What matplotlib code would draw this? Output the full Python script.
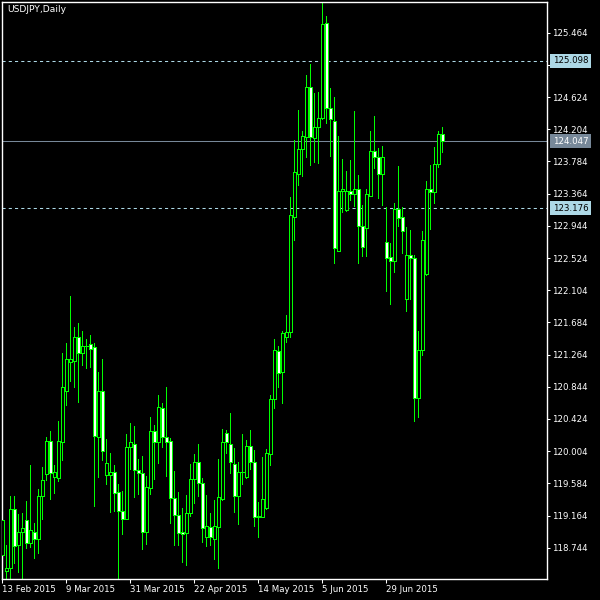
import numpy as np
import pandas as pd
import matplotlib
matplotlib.use("Agg")
import matplotlib.pyplot as plt
import matplotlib.transforms as mtransforms

# USDJPY daily candles, 13 Feb 2015 onwards
opens = [118.649, 118.441, 118.476, 119.246, 118.780, 118.946, 119.106, 118.810, 118.953, 118.854,
         119.419, 119.702, 120.137, 119.671, 119.658, 120.128, 120.793, 121.172, 121.185, 121.494,
         121.289, 121.373, 121.399, 121.363, 120.193, 120.785, 119.689, 119.697, 119.728, 119.467,
         119.223, 119.119, 120.055, 120.094, 119.758, 119.715, 118.946, 119.520, 120.263, 120.128,
         120.564, 120.185, 120.133, 119.389, 119.167, 118.950, 118.932, 119.194, 119.637, 119.859,
         119.585, 118.880, 119.019, 118.854, 119.019, 119.380, 120.237, 120.094, 119.833, 119.423,
         119.728, 119.671, 120.068, 119.859, 119.141, 119.141, 119.267, 119.963, 120.681, 121.311,
         121.033, 121.490, 121.555, 123.056, 123.617, 123.943, 124.100, 124.760, 124.087, 124.238,
         124.347, 125.587, 124.478, 124.316, 122.620, 123.403, 123.151, 123.399, 123.356, 123.421,
         122.946, 122.920, 123.338, 123.925, 123.836, 123.621, 122.737, 122.534, 122.479, 123.160,
         123.056, 121.986, 122.560, 122.521, 120.694, 121.320, 122.312, 123.421, 123.382, 123.747,
         124.139]
highs = [119.171, 118.780, 119.419, 119.419, 119.184, 119.194, 119.354, 119.824, 119.063, 119.511,
         119.794, 120.185, 120.267, 119.824, 120.402, 121.285, 121.416, 122.029, 121.624, 121.677,
         121.572, 121.464, 121.520, 121.416, 121.037, 121.207, 120.163, 119.984, 119.820, 119.576,
         119.488, 120.228, 120.368, 120.333, 119.902, 119.941, 119.680, 120.446, 120.346, 120.733,
         120.629, 120.838, 120.176, 119.745, 119.471, 119.263, 119.432, 119.837, 119.967, 120.098,
         119.650, 119.432, 119.194, 119.367, 119.898, 120.293, 120.280, 120.498, 120.042, 119.867,
         120.228, 120.150, 120.280, 120.019, 119.345, 119.932, 120.032, 120.737, 121.464, 121.376,
         121.572, 121.781, 123.325, 124.064, 124.456, 124.182, 124.912, 125.056, 124.674, 124.687,
         125.856, 125.682, 124.739, 124.621, 124.117, 123.816, 123.660, 123.803, 124.443, 123.608,
         123.216, 123.421, 124.182, 124.377, 123.960, 123.986, 123.186, 122.716, 123.238, 123.725,
         123.186, 122.925, 122.890, 122.560, 121.572, 122.877, 123.529, 123.738, 123.977, 124.182,
         124.234]
lows = [118.623, 118.297, 118.300, 118.545, 118.432, 118.323, 118.737, 118.758, 118.614, 118.679,
        119.115, 119.628, 119.380, 119.462, 119.615, 119.889, 120.607, 120.924, 120.845, 120.650,
        121.129, 121.085, 121.106, 119.293, 119.671, 119.889, 119.576, 119.214, 119.227, 118.290,
        118.923, 119.115, 119.772, 119.410, 119.445, 118.724, 118.797, 119.441, 119.637, 119.854,
        120.055, 119.680, 119.071, 118.780, 118.780, 118.562, 118.519, 119.162, 119.332, 119.423,
        118.823, 118.771, 118.780, 118.597, 118.484, 119.367, 119.984, 119.723, 119.214, 119.054,
        119.576, 119.660, 119.772, 119.028, 118.888, 119.141, 119.250, 119.824, 120.571, 120.835,
        120.637, 121.433, 121.498, 122.760, 123.477, 123.595, 123.846, 123.738, 123.781, 123.768,
        124.334, 124.290, 123.859, 122.455, 122.610, 123.129, 123.142, 123.281, 123.207, 122.463,
        122.551, 122.551, 123.330, 123.703, 123.311, 123.216, 122.098, 121.924, 122.346, 122.942,
        122.596, 121.837, 121.990, 120.402, 120.454, 121.259, 122.300, 122.903, 123.246, 123.716,
        123.912]
closes = [119.106, 118.480, 119.246, 118.771, 118.946, 118.998, 118.810, 118.976, 118.854, 119.419,
          119.628, 120.137, 119.715, 119.728, 120.137, 120.838, 121.203, 121.203, 121.494, 121.281,
          121.373, 121.380, 121.341, 120.206, 120.785, 120.010, 119.850, 119.732, 119.462, 119.220,
          119.123, 120.055, 120.124, 119.755, 119.715, 118.946, 119.533, 120.267, 120.120, 120.577,
          120.185, 120.120, 119.389, 119.167, 118.940, 118.923, 119.194, 119.637, 119.859, 119.585,
          118.998, 119.032, 118.888, 119.032, 119.402, 120.120, 120.128, 119.867, 119.423, 119.728,
          119.735, 120.068, 119.859, 119.141, 119.154, 119.376, 119.976, 120.681, 121.320, 121.018,
          121.542, 121.555, 123.086, 123.643, 123.943, 124.117, 124.760, 124.100, 124.238, 124.347,
          125.574, 124.478, 124.334, 122.651, 123.403, 123.425, 123.403, 123.356, 123.421, 122.946,
          122.672, 123.356, 123.925, 123.839, 123.621, 123.839, 122.521, 122.489, 123.160, 123.043,
          122.873, 122.560, 122.521, 120.694, 121.320, 122.756, 123.421, 123.382, 123.747, 124.139,
          124.047]

price_ticks = [118.744, 119.164, 119.584, 120.004, 120.424, 120.844, 121.264, 121.684, 122.104,
               122.524, 122.944, 123.364, 123.784, 124.204, 124.624, 125.044, 125.464]
date_tick_idx = [0, 16, 32, 48, 64, 80, 96]
level_lines = [125.098, 123.176]
bid = 124.047

dates = pd.bdate_range("2015-02-13", periods=len(opens))
o = np.array(opens)
h = np.array(highs)
l = np.array(lows)
c = np.array(closes)
x = np.arange(len(o))
up = c >= o

fig = plt.figure(figsize=(6, 6), dpi=100, facecolor="black")
ax = fig.add_axes([2 / 600, 21 / 600, 545 / 600, 577 / 600], facecolor="black")

green = "#00ff00"
ax.vlines(x, l, h, color=green, linewidth=0.6, zorder=2, antialiased=False)
ax.bar(x, np.maximum(np.abs(c - o), 0.004), bottom=np.minimum(o, c), width=0.6,
       color=np.where(up, "black", "white"), edgecolor=green, linewidth=0.6, zorder=3,
       antialiased=False)

for lv in level_lines:
    ax.axhline(lv, color="#add8e6", linewidth=0.75, linestyle=(0, (3, 3)), zorder=1)
ax.axhline(bid, color="#778899", linewidth=0.75, zorder=1)

ax.set_xlim(-0.08, 136.17)
ax.set_ylim(118.336, 125.865)

ax.yaxis.tick_right()
ax.set_yticks(price_ticks)
ax.set_yticklabels([f"{p:.3f}" for p in price_ticks])
ax.set_xticks(date_tick_idx)
ax.set_xticklabels([f"{dates[i].day} {dates[i].strftime('%b %Y')}" for i in date_tick_idx], ha="left")
ax.tick_params(axis="y", colors="white", labelsize=6.2, length=2.2, width=0.75, pad=1.4)
ax.tick_params(axis="x", colors="white", labelsize=6.2, length=3, width=0.75, pad=1)
for sp in ax.spines.values():
    sp.set_color("white")
    sp.set_linewidth(1)

# price labels on the right scale
trans = mtransforms.blended_transform_factory(ax.transAxes, ax.transData)
trans = trans + mtransforms.ScaledTranslation(6 / 100, 0, fig.dpi_scale_trans)
for val, fc, tc in [(125.098, "#add8e6", "black"), (123.176, "#add8e6", "black"), (bid, "#778899", "white")]:
    ax.text(1, val, f"{val:.3f}", transform=trans, ha="left", va="center", fontsize=6.2, color=tc,
            bbox=dict(boxstyle="square,pad=0.3", fc=fc, ec="none"), clip_on=False, zorder=5)

fig.text(7 / 600, 1 - 10 / 600, "USDJPY,Daily", color="white", fontsize=6.6, ha="left", va="center")

fig.savefig("out.png", dpi=100, facecolor="black")
